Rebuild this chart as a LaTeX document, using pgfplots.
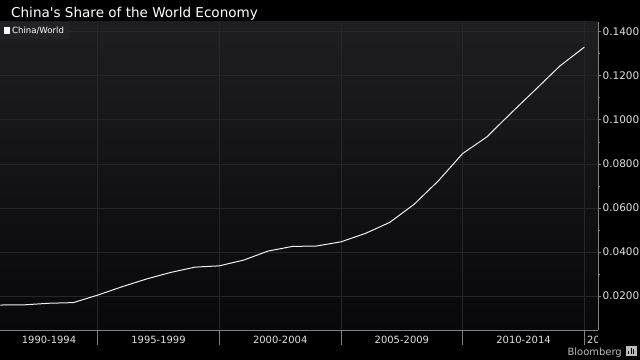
\documentclass[border=0pt]{standalone}
\usepackage{pgfplots}
\pgfplotsset{compat=1.18}
\usepackage{fontspec}
\setmainfont{DejaVu Sans}
\newfontfamily\plainfont{DejaVu Sans}
\definecolor{bgtop}{RGB}{30,30,32}
\definecolor{bgbot}{RGB}{8,8,10}
\definecolor{gridc}{RGB}{38,38,40}
\definecolor{axc}{RGB}{130,130,130}
\definecolor{tickc}{RGB}{225,225,225}
\definecolor{legbg}{RGB}{34,34,36}
\definecolor{linec}{RGB}{240,240,240}
\definecolor{brand}{RGB}{190,190,190}
\begin{document}
\begin{tikzpicture}
\fill[black] (0bp,0bp) rectangle (640bp,360bp);
\useasboundingbox (0bp,0bp) rectangle (640bp,360bp);
\node[anchor=base west, text=white, font=\plainfont\fontsize{13.6}{15}\selectfont, inner sep=0pt] at (11bp,342bp) {China's Share of the World Economy};
\begin{axis}[
  at={(0bp,30bp)}, anchor=south west, scale only axis,
  width=598bp, height=308bp,
  xmin=1990.985, xmax=2015.56, ymin=0.00456, ymax=0.1444,
  axis background/.style={top color=bgtop, bottom color=bgbot},
  axis x line*=bottom, axis y line*=right,
  axis line style={axc, line width=0.8bp},
  tick align=outside,
  major tick length=3bp, minor tick length=1.5bp,
  xtick={1993,1997.5,2002.5,2007.5,2012.5},
  xticklabels={1990-1994,1995-1999,2000-2004,2005-2009,2010-2014},
  xtick style={draw=none},
  extra x ticks={1995,2000,2005,2010,2015},
  extra x tick labels={},
  extra x tick style={grid=major},
  ytick={0.02,0.04,0.06,0.08,0.10,0.12,0.14},
  minor y tick num=1,
  ytick style={axc, line width=0.6bp},
  ymajorgrids=true,
  major grid style={gridc, line width=0.6bp},
  scaled y ticks=false,
  /pgf/number format/assume math mode=true,
  y tick label style={/pgf/number format/fixed, /pgf/number format/fixed zerofill, /pgf/number format/precision=4, text=tickc, font=\fontsize{10.5}{12}\selectfont, inner xsep=1.5bp},
  x tick label style={text=tickc, font=\fontsize{10}{12}\selectfont},
  clip=false,
  legend style={at={(0,1)}, anchor=north west, fill=legbg, draw=none, text=white, font=\fontsize{8.6}{10}\selectfont, inner xsep=3.5bp, inner ysep=2.5bp, legend cell align=left},
  legend image code/.code={\fill[white] (0bp,-2.7bp) rectangle (5.4bp,2.7bp);},
]
\addplot[linec, line width=1bp] coordinates {
(1991,0.0159) (1992,0.0160) (1993,0.0167) (1994,0.0170) (1995,0.0204)
(1996,0.0242) (1997,0.0277) (1998,0.0307) (1999,0.0331) (2000,0.0337)
(2001,0.0363) (2002,0.0404) (2003,0.0425) (2004,0.0427) (2005,0.0446)
(2006,0.0484) (2007,0.0534) (2008,0.0616) (2009,0.0723) (2010,0.0847)
(2011,0.0923) (2012,0.1032) (2013,0.1138) (2014,0.1245) (2015,0.1330)
};
\addlegendentry{China/World}
\pgfplotsinvokeforeach{1995,2000,2005,2010,2015}{\draw[axc, line width=0.6bp] (axis cs:#1,0.00456) -- ++(0bp,-15bp);}
\end{axis}
\begin{scope}
\clip (586bp,0bp) rectangle (597.5bp,30bp);
\node[anchor=base west, text=tickc, font=\fontsize{10}{12}\selectfont, inner sep=0pt] at (587bp,17bp) {2015-2019};
\end{scope}
\node[anchor=base east, text=brand, font=\fontsize{10}{12}\selectfont, inner sep=0pt] at (622bp,5bp) {Bloomberg};
\fill[brand] (626bp,3.5bp) rectangle (637bp,14bp);
\fill[black] (628bp,5.5bp) rectangle (629.2bp,9bp);
\fill[black] (630.6bp,5.5bp) rectangle (631.8bp,12bp);
\fill[black] (633.2bp,5.5bp) rectangle (634.4bp,10.5bp);
\end{tikzpicture}
\end{document}
